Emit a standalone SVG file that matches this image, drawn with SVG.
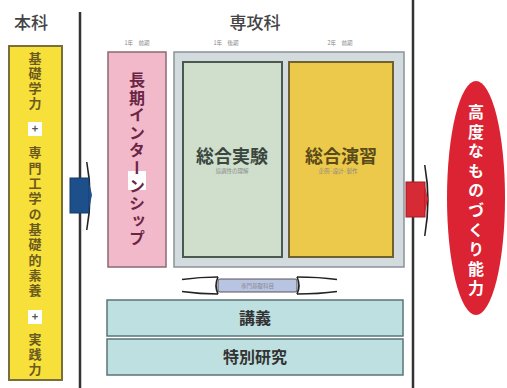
<svg xmlns="http://www.w3.org/2000/svg" width="507" height="388" viewBox="0 0 507 388">
<style>
.jp{font-family:"Noto Sans CJK JP","Noto Sans CJK SC",sans-serif;font-weight:bold}
.v{writing-mode:vertical-rl;text-orientation:upright}
.head{font-size:17px;fill:#444;font-weight:500}
.small{font-size:5.5px;fill:#888;font-weight:normal}
.vline{stroke:#333;stroke-width:2.5}
</style>
<rect width="507" height="388" fill="#fff"/>
<text class="jp head" x="31" y="29" text-anchor="middle">本科</text>
<text class="jp head" x="255" y="29" text-anchor="middle">専攻科</text>
<text class="jp small" x="137" y="45" text-anchor="middle">1年　前期</text>
<text class="jp small" x="226" y="45" text-anchor="middle">1年　後期</text>
<text class="jp small" x="340" y="45" text-anchor="middle">2年　前期</text>

<g id="connectors">
<line class="vline" x1="80" y1="12" x2="80" y2="388"/>
<line class="vline" x1="413" y1="0" x2="413" y2="388"/>
<g id="arrow-left">
<path d="M86,162 Q92,195 86,230 L87.5,230 Q94,195 87.5,162Z" fill="#222"/>
<rect x="70" y="178" width="19" height="35" fill="#1d4f8a" stroke="#163a66"/>
<path d="M89,182 L92,195 L89,209Z" fill="#1d4f8a"/>
</g>
<g id="arrow-right">
<path d="M424,165 Q430,200 424,236 L425.5,236 Q432,200 425.5,165Z" fill="#222"/>
<rect x="406" y="182" width="19" height="35" fill="#d62b35" stroke="#a01c24"/>
<path d="M425,186 L428,199 L425,213Z" fill="#d62b35"/>
</g>
<g id="arrow-mid" fill="none" stroke="#222" stroke-width="1.6">
<path d="M182,279.5 Q200,277 218,277"/>
<path d="M182,291.5 Q200,294 218,294"/>
<path d="M337,279.5 Q319,277 297,277"/>
<path d="M337,291.5 Q319,294 297,294"/>
<path d="M218,277 Q214,285.5 218,294"/>
<path d="M297,277 Q301,285.5 297,294"/>
<rect x="218" y="279" width="79" height="13" rx="2" fill="#b8c4e2" stroke="#555" stroke-width="1"/>
<text class="jp small" x="257.5" y="288" text-anchor="middle" fill="#445" stroke="none">専門基礎科目</text>
</g>
</g>

<g id="honka">
<rect x="9" y="46" width="53" height="334" fill="#f8e03a" stroke="#7a6e3a" stroke-width="2"/>
<g class="jp v" font-size="13" fill="#6b5a1e" font-weight="500">
<text x="35" y="52" letter-spacing="2">基礎学力</text>
<rect x="28" y="122" width="14" height="14" fill="#fff"/>
<text x="35" y="133" font-size="11" fill="#555" class="jp" text-anchor="middle" style="writing-mode:horizontal-tb">+</text>
<text x="35" y="146" letter-spacing="2.3">専門工学の基礎的素養</text>
<rect x="28" y="310" width="14" height="14" fill="#fff"/>
<text x="35" y="321" font-size="11" fill="#555" class="jp" text-anchor="middle" style="writing-mode:horizontal-tb">+</text>
<text x="35" y="333" letter-spacing="2">実践力</text>
</g>
</g>

<g id="intern">
<rect x="108" y="52" width="58" height="215" fill="#f1b9c9" stroke="#8a6a72" stroke-width="1.5"/>
<rect x="128" y="171" width="18" height="19" fill="#fff"/>
<text class="jp v" x="137" y="72" font-size="16" letter-spacing="1.6" fill="#6a2545" font-weight="500">長期インターンシップ</text>
</g>

<g id="container">
<rect x="174" y="52" width="230" height="215" fill="#d3dbde" stroke="#8a9296" stroke-width="1.5"/>
</g>
<g id="jikken">
<rect x="183" y="62" width="99" height="195" fill="#cfdfcc" stroke="#4a5a4e" stroke-width="2"/>
<text class="jp" x="232" y="163" font-size="18" fill="#3a463e" text-anchor="middle" font-weight="500">総合実験</text>
<text class="jp small" x="232" y="173" text-anchor="middle" fill="#555">協調性の理解</text>
</g>
<g id="enshu">
<rect x="289" y="62" width="104" height="195" fill="#ecc94a" stroke="#6e6230" stroke-width="2"/>
<text class="jp" x="341" y="163" font-size="18" fill="#5a4a1a" text-anchor="middle" font-weight="500">総合演習</text>
<text class="jp small" x="338" y="173" text-anchor="middle" fill="#6a5a20">企画·設計·製作</text>
</g>

<g id="kougi">
<rect x="107" y="300" width="296" height="36" fill="#bfe0e0" stroke="#5a7476" stroke-width="1.5"/>
<text class="jp" x="255" y="324" font-size="16" fill="#333" text-anchor="middle" font-weight="500">講義</text>
</g>
<g id="tokubetsu">
<rect x="107" y="339" width="296" height="36" fill="#bfe0e0" stroke="#5a7476" stroke-width="1.5"/>
<text class="jp" x="255" y="363" font-size="16" fill="#333" text-anchor="middle" font-weight="500">特別研究</text>
</g>

<g id="goal">
<ellipse cx="476" cy="198" rx="29" ry="117" fill="#dc2333"/>
<text class="jp v" x="476" y="104" font-size="16" letter-spacing="3.6" fill="#fff" font-weight="500">高度なものづくり能力</text>
</g>
</svg>
